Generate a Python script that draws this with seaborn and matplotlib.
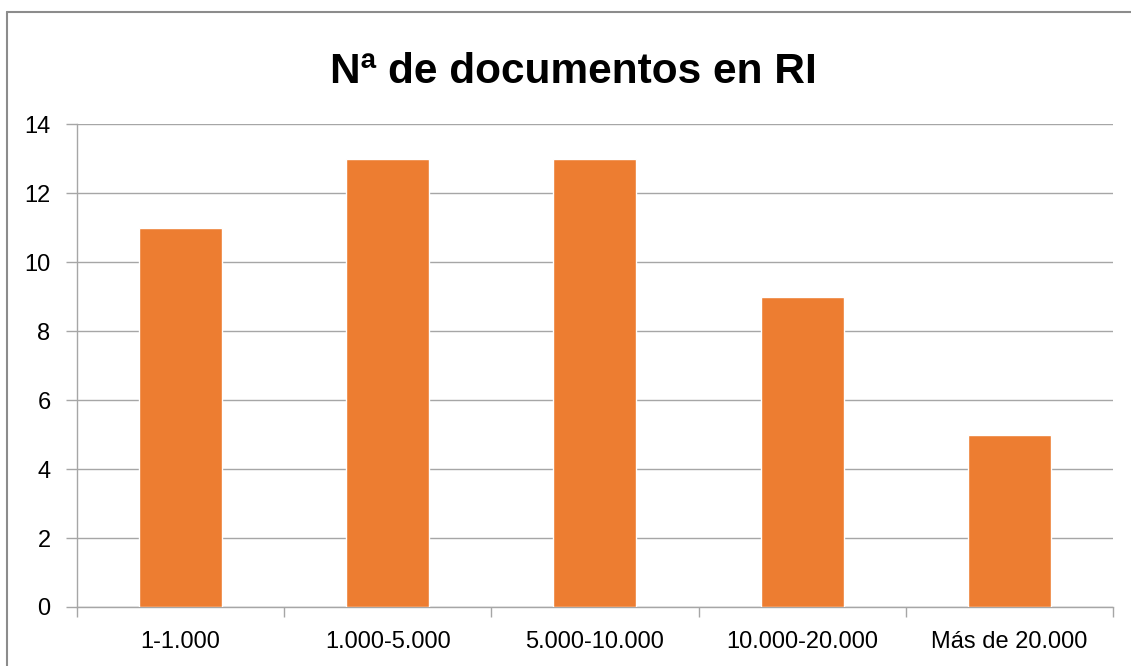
import pandas as pd
import numpy as np
import seaborn as sns
import matplotlib.pyplot as plt
from matplotlib.lines import Line2D

# Data
categories = ["1-1.000", "1.000-5.000", "5.000-10.000", "10.000-20.000", "Más de 20.000"]
documentos = [11, 13, 13, 9, 5]
y_ticks = [0, 2, 4, 6, 8, 10, 12, 14]

df = pd.DataFrame({"rango": categories, "n": documentos})

sns.set_theme(style="white")
plt.rcParams['font.family'] = ['Liberation Sans', 'DejaVu Sans']

grey = "#a6a6a6"

fig = plt.figure(figsize=(11.31, 6.66), dpi=100)
ax = fig.add_axes([0.068, 0.0886, 0.916, 0.725])

sns.barplot(data=df, x="rango", y="n", color="#ED7D31", width=0.4,
            saturation=1, ax=ax, zorder=3)

ax.set_ylim(0, 14)
ax.set_xlim(-0.5, len(categories) - 0.5)
ax.set_yticks(y_ticks)
ax.yaxis.grid(True, color=grey, linewidth=1)
ax.set_axisbelow(True)
ax.set_xlabel("")
ax.set_ylabel("")

for side in ["top", "right"]:
    ax.spines[side].set_visible(False)
for side in ["left", "bottom"]:
    ax.spines[side].set_color(grey)
    ax.spines[side].set_linewidth(1)

# ticks: y outward, x at category boundaries
ax.tick_params(axis="y", length=8, width=1, color=grey, labelsize=17, pad=11,
               left=True, labelcolor="black")
ax.tick_params(axis="x", which="major", length=0, labelsize=17, pad=17,
               labelcolor="black")
ax.set_xticks(np.arange(-0.5, len(categories)), minor=True)
ax.tick_params(axis="x", which="minor", length=7, width=1, color=grey, bottom=True)

fig.suptitle("Nª de documentos en RI", fontsize=30.5, fontweight="bold",
             color="black", x=0.507, y=0.922)

# outer frame (only left and top edges are visible in the crop)
fig.add_artist(Line2D([7 / 1131, 7 / 1131], [0, 1 - 12 / 666], transform=fig.transFigure,
                      color="#8c8c8c", linewidth=1.5))
fig.add_artist(Line2D([7 / 1131, 1], [1 - 12 / 666, 1 - 12 / 666], transform=fig.transFigure,
                      color="#8c8c8c", linewidth=1.5))

fig.savefig("out.png", dpi=100, facecolor="white")
